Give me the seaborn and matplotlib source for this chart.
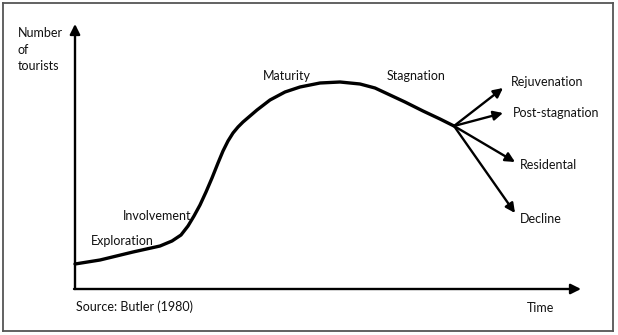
import matplotlib
matplotlib.use("Agg")
import matplotlib.pyplot as plt
import seaborn as sns
import pandas as pd

sns.set_theme(style="white")
plt.rcParams['font.family'] = ['Lato', 'DejaVu Sans']

# Butler (1980) tourism area life cycle curve (time vs number of tourists)
time = [0, 25, 58, 85, 97, 106, 113, 119, 125, 131, 137, 143, 148, 153, 158,
        163, 168, 175, 182, 195, 210, 225, 245, 265, 285, 300, 315, 330,
        348, 365, 379]
tourists = [25, 29, 37, 43, 48, 54, 63, 73, 84, 97, 111, 126, 138, 148, 156,
            162, 167, 173, 179, 189, 197, 202, 206, 207, 205, 201, 194, 187,
            178, 170, 163]

# Branch outcomes after stagnation
branch_names = ["Rejuvenation", "Post-stagnation", "Residental", "Decline"]
branch_end_time = [428, 428, 440, 440]
branch_end_tourists = [201, 176, 127, 76]
branch_label_time = [436, 438, 445, 445]
branch_label_tourists = [207, 176, 124, 70]

# Stage labels
stage_names = ["Exploration", "Involvement", "Maturity", "Stagnation"]
stage_time = [16, 48, 188, 312]
stage_tourists = [48, 73, 213, 213]

W, H = 618, 335
fig = plt.figure(figsize=(W / 100, H / 100), dpi=100)
ax = fig.add_axes([3 / W, 4 / H, 610 / W, 328 / H])
ax.set_xlim(-72, 538)
ax.set_ylim(-42, 286)
ax.set_xticks([])
ax.set_yticks([])
for s in ax.spines.values():
    s.set_visible(True)
    s.set_color("#555555")
    s.set_linewidth(1.3)

df = pd.DataFrame({"Time": time, "Tourists": tourists})
sns.lineplot(data=df, x="Time", y="Tourists", sort=False, color="black",
             linewidth=2.4, ax=ax, solid_joinstyle="round",
             solid_capstyle="round")
ax.set_xlabel("")
ax.set_ylabel("")

# axes with arrows
ax.annotate("", xy=(0, 265), xytext=(0, 0),
            arrowprops=dict(arrowstyle="-|>", color="black", lw=1.7,
                            mutation_scale=15, shrinkA=0, shrinkB=0))
ax.annotate("", xy=(506, 0), xytext=(-1, 0),
            arrowprops=dict(arrowstyle="-|>", color="black", lw=1.7,
                            mutation_scale=15, shrinkA=0, shrinkB=0))

# branch arrows
t0, n0 = time[-1], tourists[-1]
for et, en in zip(branch_end_time, branch_end_tourists):
    ax.annotate("", xy=(et, en), xytext=(t0, n0),
                arrowprops=dict(arrowstyle="-|>", color="black", lw=1.7,
                                mutation_scale=14, shrinkA=0, shrinkB=0))

fs = 9
for name, t, n in zip(branch_names, branch_label_time, branch_label_tourists):
    ax.text(t, n, name, fontsize=fs, ha="left", va="center", color="#111111")
for name, t, n in zip(stage_names, stage_time, stage_tourists):
    ax.text(t, n, name, fontsize=fs, ha="left", va="center", color="#111111")

ax.text(-57, 262, "Number\nof\ntourists", fontsize=fs, ha="left", va="top",
        linespacing=1.45, color="#111111")
ax.text(452, -19, "Time", fontsize=fs, ha="left", va="center", color="#111111")
ax.text(1, -18, "Source: Butler (1980)", fontsize=fs, ha="left", va="center",
        color="#111111")

fig.savefig("out.png", dpi=100)
